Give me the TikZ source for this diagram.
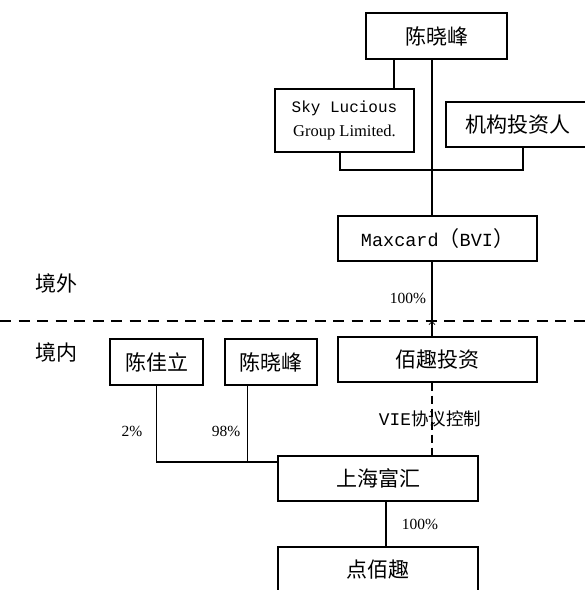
\documentclass[tikz,border=0pt]{standalone}
\usepackage{fontspec}
\setmainfont{Liberation Serif}
\setmonofont{Liberation Mono}
\newfontfamily\cjk{Noto Sans CJK SC}
\usetikzlibrary{arrows.meta,calc,positioning}
\tikzset{
    box/.style ={draw, inner sep=0pt, minimum height=45pt, align=center,
                 font=\cjk\fontsize{21}{25}\selectfont},
    pct/.style ={inner sep=0pt, font=\fontsize{15.5}{18}\selectfont},
    area/.style={inner sep=0pt, font=\cjk\fontsize{21}{25}\selectfont},
    border/.style={dash pattern=on 11pt off 7.5pt, line width=1.3pt},
    ctrl/.style={dash pattern=on 8pt off 5pt}
}

\begin{document}
\begin{tikzpicture}[x=1pt,y=-1pt,line width=1.1pt]
    \clip (0,0) rectangle (585,590);
    % offshore
    \node[box, minimum width=141pt, minimum height=46pt] (1) at (436.5,36) {陈晓峰};
    \node[box, minimum width=139pt, minimum height=63pt] (2) at (344.5,120.5)
        {{\ttfamily\fontsize{16}{20}\selectfont Sky Lucious}\\[-1pt]
         {\rmfamily\fontsize{16.5}{20}\selectfont Group Limited.}};
    \node[box, minimum width=144pt] (3) at (518,124.5) {机构投资人};
    \node[box, minimum width=199pt] (4) at (437.5,238.5)
        {{\ttfamily\fontsize{18.5}{22}\selectfont Maxcard}（{\ttfamily\fontsize{18.5}{22}\selectfont BVI}）};
    \coordinate (m) at (432,170);

    \draw (1.south -| m) -- (m |- 4.north);
    \draw ([xshift=49.5pt]2.north) -- ([xshift=49.5pt]2.north |- 1.south);
    \draw ([xshift=-4.5pt]2.south) |- (m) -| ([xshift=5pt]3.south);

    % border
    \node[area] (out) at (56,283) {境外};
    \node[area] (in) at (56,352) {境内};
    \coordinate (bl) at (0,321);
    \coordinate (br) at (585,321);
    \draw[border] (bl) -- (br);

    % onshore
    \node[box, minimum width=199pt] (5) at (437.5,359.5) {佰趣投资};
    \node[box, minimum width=93pt, minimum height=46pt] (6) at (156.5,362) {陈佳立};
    \node[box, minimum width=92pt, minimum height=46pt] (7) at (271,362) {陈晓峰};
    \node[box, minimum width=200pt] (8) at (378,478.5) {上海富汇};
    \node[box, minimum width=200pt] (9) at (378,569.5) {点佰趣};
    \coordinate (c) at (m |- bl);
    \coordinate (j) at ([yshift=16.5pt]8.west);

    \draw[-{Straight Barb[length=3pt,width=6pt,line width=0.8pt]}] (m |- 5.north) -- (c);
    \draw (c) -- (m |- 4.south);
    \node[pct] at (408,298) {100\%};
    \draw[ctrl] (m |- 5.south) -- (m |- 8.north);
    \node[inner sep=0pt] at (430,419)
        {{\ttfamily\fontsize{17.8}{20}\selectfont VIE}{\cjk\fontsize{17.5}{20}\selectfont 协议控制}};
    \draw (6.south) |- (j);
    \draw ([xshift=-23.5pt]7.south) -- ([xshift=-23.5pt]7.south |- j);
    \node[pct] at (132,431) {2\%};
    \node[pct] at (226,431) {98\%};
    \draw ([xshift=8pt]8.south) -- ([xshift=8pt]9.north);
    \node[pct] at (420,524) {100\%};
\end{tikzpicture}
\end{document}
